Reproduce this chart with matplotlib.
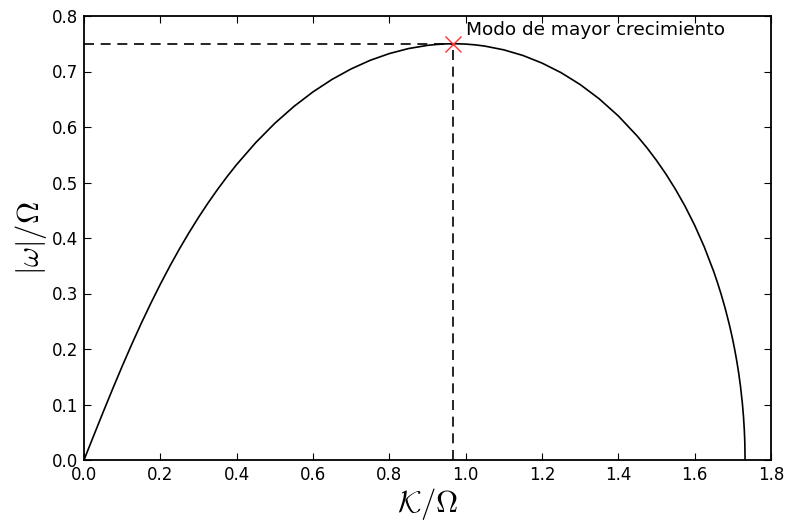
import matplotlib
matplotlib.use("Agg")
import matplotlib.pyplot as plt

# Values (x = K/Omega, y = |omega|/Omega)
K = [0.0, 0.02, 0.025, 0.05, 0.075, 0.1, 0.125, 0.15, 0.175, 0.2, 0.225, 0.25,
     0.275, 0.3, 0.325, 0.35, 0.375, 0.4, 0.45, 0.5, 0.55, 0.6, 0.65, 0.7, 0.75,
     0.8, 0.85, 0.9, 0.925, 0.95, 0.968, 0.985, 1.0, 1.025, 1.05, 1.1, 1.15, 1.2,
     1.25, 1.3, 1.35, 1.4, 1.45, 1.475, 1.5, 1.525, 1.55, 1.575, 1.6, 1.625, 1.65,
     1.66, 1.67, 1.68, 1.69, 1.695, 1.70, 1.705, 1.71, 1.715, 1.72, 1.725, 1.728,
     1.73, 1.731, 1.7315, 1.7320508]
W = [0.0, 0.0346, 0.0432, 0.0860, 0.1280, 0.1689, 0.2083, 0.2462, 0.2823, 0.3167,
     0.3494, 0.3803, 0.4095, 0.4371, 0.4631, 0.4876, 0.5107, 0.5324, 0.5719, 0.6067,
     0.6370, 0.6633, 0.6858, 0.7047, 0.7202, 0.7323, 0.7413, 0.7471, 0.7488, 0.7498,
     0.75, 0.7498, 0.7494, 0.7480, 0.7458, 0.7390, 0.7289, 0.7152, 0.6979, 0.6765,
     0.6507, 0.6199, 0.5833, 0.5625, 0.5398, 0.5149, 0.4874, 0.4570, 0.4229, 0.3842,
     0.3394, 0.3191, 0.2972, 0.2731, 0.2463, 0.2316, 0.2158, 0.1986, 0.1796, 0.1582,
     0.1332, 0.1021, 0.0774, 0.0551, 0.0395, 0.0286, 0.0]

K_max = 0.968
W_max = 0.75
label_max = "Modo de mayor crecimiento"

plt.rcParams['mathtext.fontset'] = 'cm'
plt.rcParams['font.family'] = ['DejaVu Sans']

fig = plt.figure(figsize=(7.9, 5.25), dpi=100)
ax = fig.add_axes([84/790, 1 - 460/525, (771-84)/790, (460-16)/525])

ax.plot(K, W, color='black', lw=1.2)
ax.plot([0, K_max], [W_max, W_max], color='black', lw=1.2, ls='--', dashes=(6, 4))
ax.plot([K_max, K_max], [0, W_max], color='black', lw=1.2, ls='--', dashes=(6, 4))
ax.plot([K_max], [W_max], marker='x', color='#ff3030', ms=11, mew=1.0, ls='none')
ax.text(K_max + 0.034, W_max + 0.009, label_max, fontsize=13.3, va='bottom', ha='left')

ax.set_xlim(0, 1.8)
ax.set_ylim(0, 0.8)
ax.set_xticks([0.0, 0.2, 0.4, 0.6, 0.8, 1.0, 1.2, 1.4, 1.6, 1.8])
ax.set_yticks([0.0, 0.1, 0.2, 0.3, 0.4, 0.5, 0.6, 0.7, 0.8])
ax.tick_params(direction='in', length=5, width=0.8, top=True, right=True,
               labelsize=12, pad=4)
for s in ax.spines.values():
    s.set_linewidth(1.3)

ax.set_xlabel(r'$\mathcal{K}/\Omega$', fontsize=22, labelpad=2)
ax.set_ylabel(r'$|\omega|/\Omega$', fontsize=22, labelpad=2)

fig.savefig('out.png', dpi=100, facecolor='white')
